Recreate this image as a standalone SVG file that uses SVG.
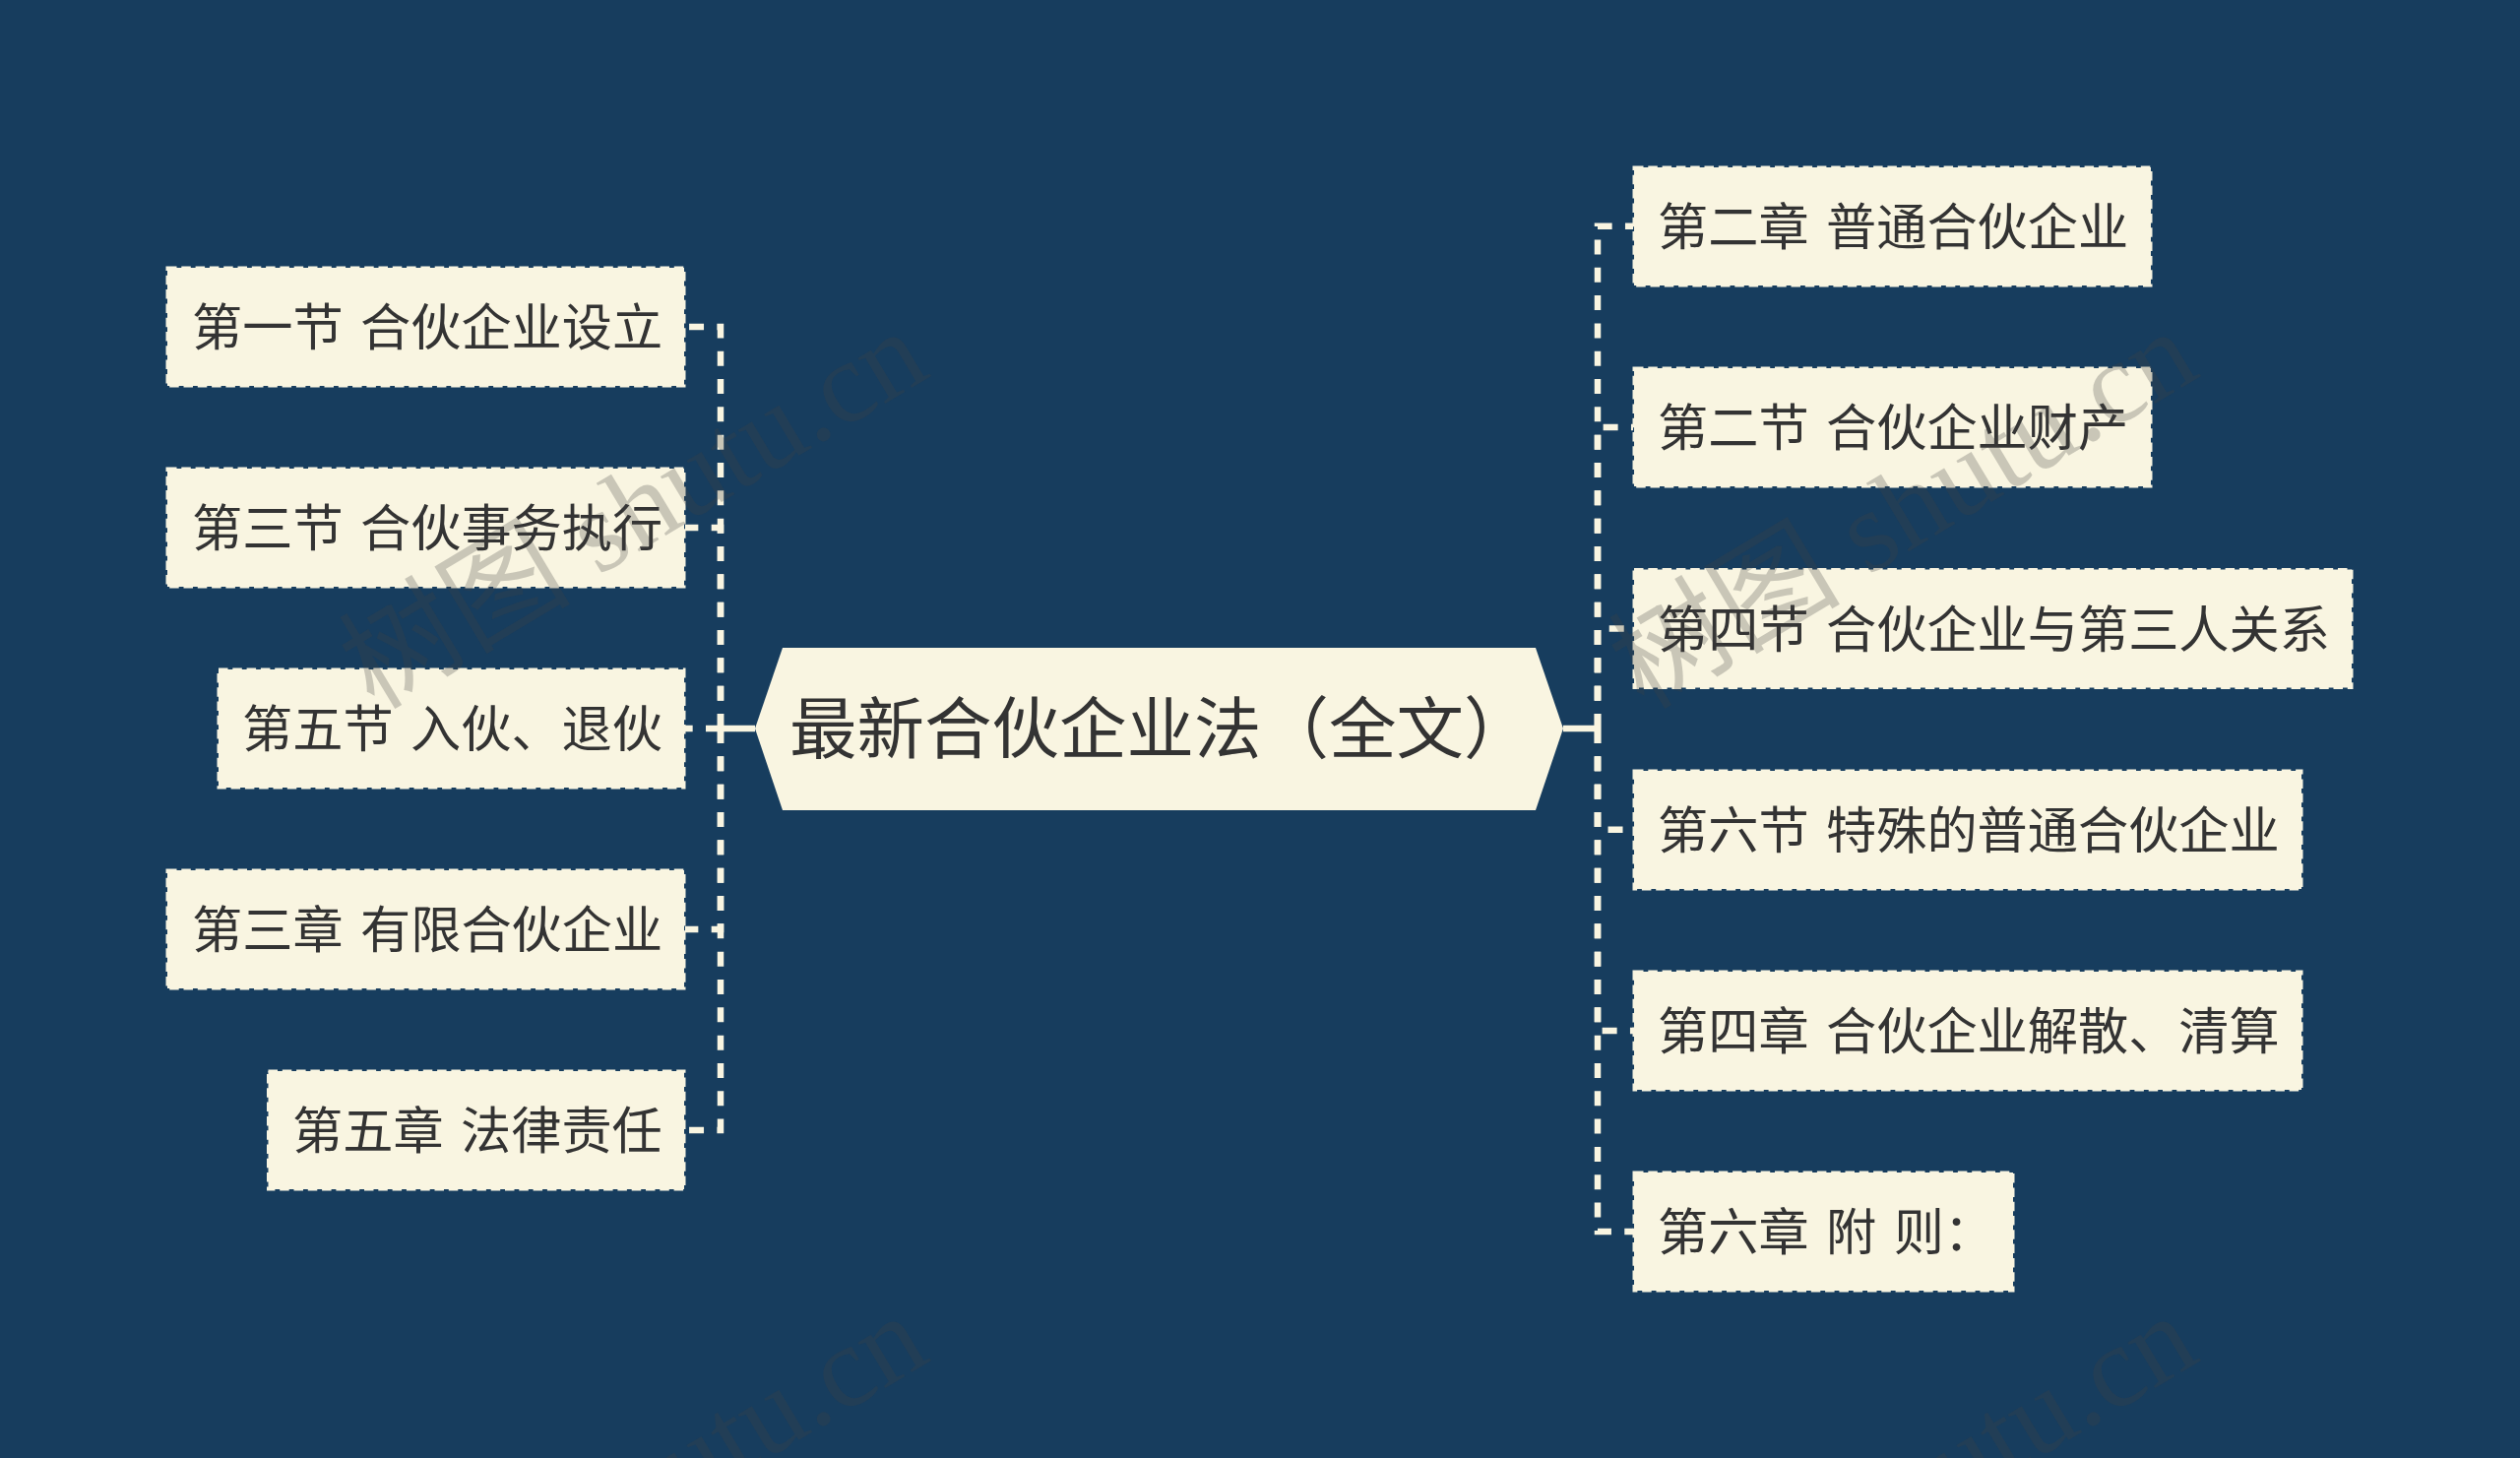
<svg xmlns="http://www.w3.org/2000/svg" width="2560" height="1481" viewBox="0 0 2560 1481">
<style>
.bg{fill:#173d5e}
.n{fill:#f9f5e1;stroke:#f9f5e1;stroke-width:3;stroke-dasharray:9.5 4.8}
.h{fill:#f9f5e1}
.t{font-family:"Noto Sans CJK SC","Noto Sans",sans-serif;font-size:51.200px;word-spacing:6px;fill:#333}
.c{font-size:68.500px;word-spacing:0}
.d{fill:none;stroke:#f9f5e1;stroke-width:6.5;stroke-dasharray:15 13.33}
.s{fill:none;stroke:#f9f5e1;stroke-width:6.5}
.w{font-family:"Liberation Serif","Noto Sans CJK SC",serif;font-size:118px;fill:#414141;fill-opacity:.26}
</style>
<rect class="bg" width="2560" height="1481"/>
<g id="connectors">
<path class="s" d="M767 740H732M1588 740H1623"/>
<path class="d" d="M732 740V332H696"/>
<path class="d" d="M732 740V536H696"/>
<path class="d" d="M732 740H696"/>
<path class="d" d="M732 740V944H696"/>
<path class="d" d="M732 740V1148H696"/>
<path class="d" d="M1623 740V229.7H1659"/>
<path class="d" d="M1623 740V434H1659"/>
<path class="d" d="M1623 740V638.4H1659"/>
<path class="d" d="M1623 740V842.8H1659"/>
<path class="d" d="M1623 740V1047H1659"/>
<path class="d" d="M1623 740V1251H1659"/>
</g>
<g id="root"><path class="h" d="M767 740L795 658H1560L1588 740L1560 823H795Z"/><text class="t c" x="802" y="765">最新合伙企业法（全文）</text></g>
<g id="l1"><rect class="n" x="170" y="272" width="525" height="120"/><text class="t" x="195" y="351">第一节 合伙企业设立</text></g>
<g id="l2"><rect class="n" x="170" y="476" width="525" height="120"/><text class="t" x="195" y="555">第三节 合伙事务执行</text></g>
<g id="l3"><rect class="n" x="222" y="680" width="473" height="120"/><text class="t" x="246" y="759">第五节 入伙、退伙</text></g>
<g id="l4"><rect class="n" x="170" y="884" width="525" height="120"/><text class="t" x="195" y="963">第三章 有限合伙企业</text></g>
<g id="l5"><rect class="n" x="272.500" y="1088" width="422.500" height="120"/><text class="t" x="297" y="1167">第五章 法律责任</text></g>
<g id="r1"><rect class="n" x="1660" y="170" width="525" height="120"/><text class="t" x="1684" y="249">第二章 普通合伙企业</text></g>
<g id="r2"><rect class="n" x="1660" y="374" width="525" height="120"/><text class="t" x="1684" y="453">第二节 合伙企业财产</text></g>
<g id="r3"><rect class="n" x="1660" y="578.500" width="729" height="120"/><text class="t" x="1684" y="657.500">第四节 合伙企业与第三人关系</text></g>
<g id="r4"><rect class="n" x="1660" y="783" width="678" height="120"/><text class="t" x="1684" y="862">第六节 特殊的普通合伙企业</text></g>
<g id="r5"><rect class="n" x="1660" y="987" width="678" height="120"/><text class="t" x="1684" y="1066">第四章 合伙企业解散、清算</text></g>
<g id="r6"><rect class="n" x="1660" y="1191" width="385" height="120"/><text class="t" x="1684" y="1270">第六章 附 则：</text></g>
<g id="watermark" class="w">
<text transform="translate(380 722) rotate(-31)">树图 shutu.cn</text>
<text transform="translate(1670 722) rotate(-31)">树图 shutu.cn</text>
<text transform="translate(380 1722) rotate(-31)">树图 shutu.cn</text>
<text transform="translate(1670 1722) rotate(-31)">树图 shutu.cn</text>
</g>
</svg>
